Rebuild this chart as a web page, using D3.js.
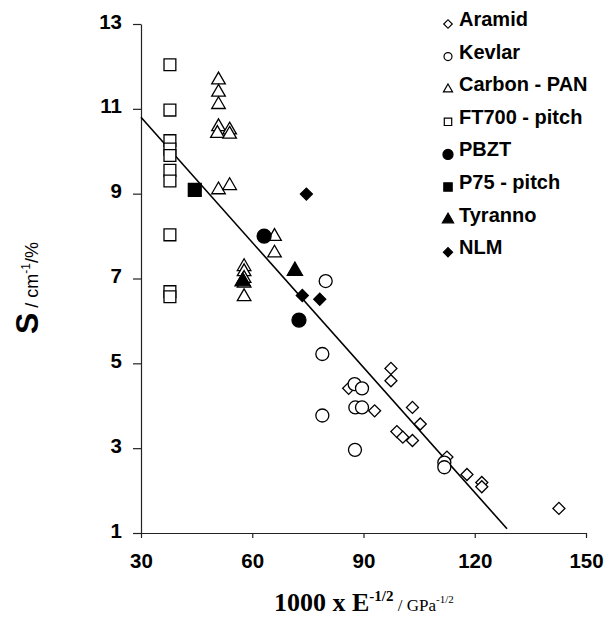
<!DOCTYPE html>
<html>
<head>
<script src="https://d3js.org/d3.v7.min.js"></script>
<style>
  body { margin: 0; background: white; }
  text { font-family: "Liberation Sans", Arial, sans-serif; }
</style>
</head>
<body>
<div id="chart"></div>
<script>
// series values
var aramidX = [86.0, 93.0, 97.4, 97.4, 99.0, 100.6, 103.2, 103.2, 105.3, 112.5, 117.9, 121.9, 121.9, 142.7];
var aramidY = [4.41, 3.88, 4.88, 4.59, 3.39, 3.26, 3.18, 3.96, 3.57, 2.79, 2.38, 2.19, 2.09, 1.58];
var kevlarX = [79.8, 78.9, 78.9, 87.6, 89.6, 87.8, 89.6, 87.7, 111.8, 111.8];
var kevlarY = [6.94, 5.22, 3.77, 4.51, 4.41, 3.96, 3.96, 2.96, 2.66, 2.55];
var carbonX = [50.9, 50.9, 50.9, 50.9, 50.6, 53.9, 53.9, 50.9, 53.9, 66.0, 66.0, 57.8, 57.8, 57.8, 57.8, 57.8];
var carbonY = [11.68, 11.39, 11.1, 10.58, 10.42, 10.5, 10.4, 9.09, 9.19, 7.99, 7.6, 7.28, 7.16, 7.0, 6.89, 6.57];
var ft700X = [37.8, 37.8, 37.8, 37.8, 37.8, 37.8, 37.8, 37.8, 37.8, 37.8];
var ft700Y = [12.04, 10.97, 10.25, 10.05, 9.9, 9.55, 9.3, 8.03, 6.69, 6.57];
var pbztX = [63.2, 72.6];
var pbztY = [8.0, 6.02];
var p75X = [44.5];
var p75Y = [9.09];
var tyrannoX = [57.4, 71.5];
var tyrannoY = [6.93, 7.18];
var nlmX = [74.6, 73.5, 78.2];
var nlmY = [8.99, 6.6, 6.51];

var fitX = [30, 128.7];
var fitY = [10.8, 1.1];

var xTicks = [30, 60, 90, 120, 150];
var yTicks = [1, 3, 5, 7, 9, 11, 13];

var seriesNames = ["Aramid", "Kevlar", "Carbon - PAN", "FT700 - pitch", "PBZT", "P75 - pitch", "Tyranno", "NLM"];

// diamond = square turned 45 degrees
var series = [
    { xs: aramidX, ys: aramidY, shape: d3.symbolSquare, rot: 45, fill: "white", size: 72, lsize: 36 },
    { xs: kevlarX, ys: kevlarY, shape: d3.symbolCircle, rot: 0, fill: "white", size: 133, lsize: 50 },
    { xs: carbonX, ys: carbonY, shape: d3.symbolTriangle, rot: 0, fill: "white", size: 80, lsize: 36 },
    { xs: ft700X, ys: ft700Y, shape: d3.symbolSquare, rot: 0, fill: "white", size: 140, lsize: 55 },
    { xs: pbztX, ys: pbztY, shape: d3.symbolCircle, rot: 0, fill: "black", size: 154, lsize: 80 },
    { xs: p75X, ys: p75Y, shape: d3.symbolSquare, rot: 0, fill: "black", size: 165, lsize: 70 },
    { xs: tyrannoX, ys: tyrannoY, shape: d3.symbolTriangle, rot: 0, fill: "black", size: 100, lsize: 55 },
    { xs: nlmX, ys: nlmY, shape: d3.symbolSquare, rot: 45, fill: "black", size: 72, lsize: 42 }
];

var width = 616, height = 619;

var svg = d3.select("#chart")
    .append("svg")
    .attr("width", width)
    .attr("height", height);

var xs = d3.scaleLinear().domain([30, 150]).range([141, 586]);
var ys = d3.scaleLinear().domain([1, 13]).range([533, 24]);

// axes
var xAxis = d3.axisBottom(xs).tickValues(xTicks).tickSize(5).tickSizeOuter(0);
var gx = svg.append("g").attr("transform", "translate(0," + ys(1) + ")").call(xAxis);
var yAxis = d3.axisLeft(ys).tickValues(yTicks).tickSize(8).tickSizeOuter(0);
var gy = svg.append("g").attr("transform", "translate(" + xs(30) + ",0)").call(yAxis);

[gx, gy].forEach(function (g) {
    g.select(".domain").attr("stroke", "#222").attr("stroke-width", 1.2);
    g.selectAll(".tick line").attr("stroke", "#222").attr("stroke-width", 1.2);
    g.selectAll(".tick text")
        .attr("fill", "black")
        .style("font-family", "'Liberation Sans', Arial, sans-serif")
        .style("font-weight", "bold")
        .style("font-size", "20.5px");
});
gx.selectAll(".tick text").attr("y", 10).attr("dy", "1.2em");
gy.selectAll(".tick text").attr("x", -19).attr("dy", "0.2em");

// fit line
svg.append("line")
    .attr("x1", xs(fitX[0])).attr("y1", ys(fitY[0]))
    .attr("x2", xs(fitX[1])).attr("y2", ys(fitY[1]))
    .attr("stroke", "black")
    .attr("stroke-width", 1.6);

// points
series.forEach(function (s) {
    var pts = s.xs.map(function (x, i) { return [x, s.ys[i]]; });
    svg.append("g").selectAll("path")
        .data(pts)
        .enter()
        .append("path")
        .attr("d", d3.symbol().type(s.shape).size(s.size))
        .attr("transform", function (d) {
            return "translate(" + xs(d[0]) + "," + ys(d[1]) + ") rotate(" + s.rot + ")";
        })
        .attr("fill", s.fill)
        .attr("stroke", "black")
        .attr("stroke-width", 1.3);
});

// legend
var lx = 448, ly = 20, step = 32.6;
series.forEach(function (s, i) {
    var y = ly + i * step;
    svg.append("path")
        .attr("d", d3.symbol().type(s.shape).size(s.lsize))
        .attr("transform", "translate(" + lx + "," + (y + 4) + ") rotate(" + s.rot + ")")
        .attr("fill", s.fill)
        .attr("stroke", "black")
        .attr("stroke-width", 1.2);
    svg.append("text")
        .attr("x", lx + 11)
        .attr("y", y + 6)
        .text(seriesNames[i])
        .style("font-weight", "bold")
        .style("font-size", "20px");
});

// y label
var yl = svg.append("text")
    .attr("transform", "translate(38,288) rotate(-90)")
    .style("text-anchor", "middle");
yl.append("tspan").text("S").style("font-weight", "bold").style("font-size", "32px");
yl.append("tspan").text(" / cm").style("font-size", "18px");
yl.append("tspan").text("-1").attr("dy", -8).style("font-size", "12px");
yl.append("tspan").text("/%").attr("dy", 8).style("font-size", "18px");

// x label
var xl = svg.append("text")
    .attr("x", 274)
    .attr("y", 611)
    .style("font-family", "'Liberation Serif', 'Times New Roman', serif");
xl.append("tspan").text("1000 x E").style("font-weight", "bold").style("font-size", "26px");
xl.append("tspan").text("-1/2").attr("dy", -10).style("font-weight", "bold").style("font-size", "15px");
xl.append("tspan").text(" / GPa").attr("dy", 10).style("font-size", "17px");
xl.append("tspan").text("-1/2").attr("dy", -8).style("font-size", "11px");
</script>
</body>
</html>
